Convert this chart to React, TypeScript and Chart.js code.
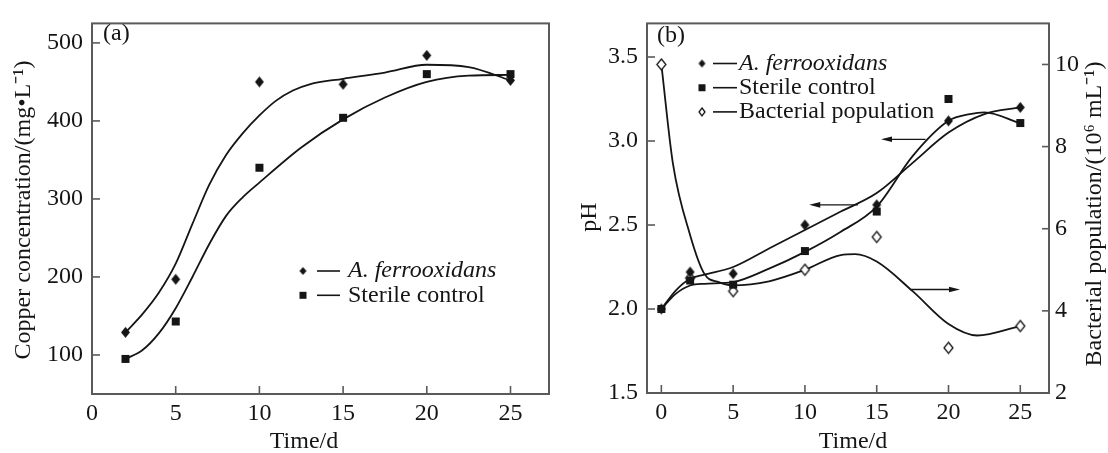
import React, { useEffect, useRef } from 'react';
import { Chart, registerables } from 'chart.js';

Chart.register(...registerables);

const FONT = "'Liberation Serif', 'Times New Roman', Times, serif";
const INK = '#151515';
const AXIS = '#5a5a5a';

// ---------- Panel (a): copper concentration ----------
const daysA = [2, 5, 10, 15, 20, 25];
const copperFerro = [129, 197, 450, 447, 484, 452];
const copperSterile = [95, 143, 340, 404, 460, 460];
const fitDaysFerroA = [2, 3, 4, 5, 6, 7, 8, 9, 10, 11, 12, 13, 15, 17.5, 20, 22.5, 25];
const copperFerroFit = [129, 152, 180, 217, 268, 318, 356, 384, 407, 426, 439, 447, 454, 462, 472, 469, 452];
const fitDaysSterileA = [2, 3, 4, 5, 6, 7, 8, 9, 10, 12.5, 15, 17.5, 20, 22.5, 25];
const copperSterileFit = [95, 106, 128, 160, 200, 242, 278, 302, 321, 366, 402, 430, 450, 458, 459];
const xTicksA = [0, 5, 10, 15, 20, 25];
const yTicksA = [100, 200, 300, 400, 500];
const legendA = ['A. ferrooxidans', 'Sterile control'];

// ---------- Panel (b): pH and bacterial population ----------
const daysB = [0, 2, 5, 10, 15, 20, 25];
const pHFerro = [2.0, 2.22, 2.21, 2.5, 2.62, 3.12, 3.2];
const pHSterile = [2.0, 2.17, 2.145, 2.345, 2.58, 3.25, 3.107];
const bacteria = [10.0, 4.8, 4.48, 5.0, 5.8, 3.1, 3.63];
const fitDaysFerroB = [0, 1, 2, 3, 5, 7.5, 10, 12.5, 15, 17.5, 20, 22.5, 25];
const pHFerroFit = [2.0, 2.11, 2.18, 2.205, 2.25, 2.36, 2.47, 2.58, 2.69, 2.87, 3.05, 3.16, 3.2];
const fitDaysSterileB = [0, 1, 2, 3, 5, 7.5, 10, 12.5, 15, 17.5, 20, 21.5, 22.5, 25];
const pHSterileFit = [2.0, 2.09, 2.14, 2.15, 2.16, 2.24, 2.34, 2.46, 2.61, 2.91, 3.12, 3.16, 3.17, 3.105];
const fitDaysBacteria = [0, 0.8, 2, 3, 4, 5, 7.5, 10, 12.5, 13.5, 15, 17.5, 20, 22, 25];
const bacteriaFit = [10.0, 7.6, 5.85, 4.9, 4.7, 4.62, 4.72, 5.0, 5.36, 5.38, 5.2, 4.48, 3.68, 3.4, 3.63];
const xTicksB = [0, 5, 10, 15, 20, 25];
const yTicksB = [1.5, 2.0, 2.5, 3.0, 3.5];
const y2TicksB = [2, 4, 6, 8, 10];
const legendB = ['A. ferrooxidans', 'Sterile control', 'Bacterial population'];
// arrows (data units): start day, tip day, level, axis
const arrowFrom = [18.4, 13.7, 17.4];
const arrowTo = [15.3, 10.3, 20.8];
const arrowLevel = [3.01, 2.62, 4.52];
const arrowAxis = ['y', 'y', 'y2'];

const pts = (xs: number[], ys: number[]) => xs.map((x, i) => ({ x, y: ys[i] }));

function makeMarker(kind: 'diamond' | 'square' | 'open', w: number, h: number): HTMLCanvasElement {
  const pad = 2;
  const c = document.createElement('canvas');
  c.width = Math.ceil(w + pad * 2);
  c.height = Math.ceil(h + pad * 2);
  const ctx = c.getContext('2d')!;
  const cx = c.width / 2;
  const cy = c.height / 2;
  ctx.beginPath();
  if (kind === 'square') {
    ctx.rect(cx - w / 2, cy - h / 2, w, h);
  } else {
    ctx.moveTo(cx, cy - h / 2);
    ctx.lineTo(cx + w / 2, cy);
    ctx.lineTo(cx, cy + h / 2);
    ctx.lineTo(cx - w / 2, cy);
    ctx.closePath();
  }
  if (kind === 'open') {
    ctx.fillStyle = '#fff';
    ctx.fill();
    ctx.lineWidth = 1.3;
    ctx.strokeStyle = INK;
    ctx.stroke();
  } else {
    ctx.fillStyle = INK;
    ctx.fill();
  }
  return c;
}

const fitSet = (data: { x: number; y: number }[], yAxisID = 'y') => ({
  data,
  yAxisID,
  borderColor: INK,
  borderWidth: 1.8,
  pointRadius: 0,
  pointHoverRadius: 0,
  cubicInterpolationMode: 'monotone' as const,
  fill: false,
  order: 2,
});

const pointSet = (label: string, data: { x: number; y: number }[], marker: HTMLCanvasElement, yAxisID = 'y') => ({
  label,
  data,
  yAxisID,
  showLine: false,
  pointStyle: marker,
  pointRadius: 5,
  pointHoverRadius: 5,
  borderColor: INK,
  backgroundColor: INK,
  order: 1,
});

const tickFont = { family: FONT, size: 24 };

function text(ctx: CanvasRenderingContext2D, s: string, x: number, y: number, opts: { italic?: boolean; align?: CanvasTextAlign; rot?: number } = {}) {
  ctx.save();
  ctx.font = `${opts.italic ? 'italic ' : ''}24px ${FONT}`;
  ctx.fillStyle = INK;
  ctx.textAlign = opts.align || 'center';
  ctx.textBaseline = 'middle';
  ctx.translate(x, y);
  if (opts.rot) ctx.rotate(opts.rot);
  ctx.fillText(s, 0, 0);
  ctx.restore();
}

const decorPlugin = {
  id: 'decor',
  afterDraw(chart: any, _args: any, o: any) {
    const ctx: CanvasRenderingContext2D = chart.ctx;
    const { left, right, top, bottom } = chart.chartArea;
    ctx.save();
    ctx.strokeStyle = AXIS;
    ctx.lineWidth = 2;
    ctx.strokeRect(left, top, right - left, bottom - top);
    ctx.lineWidth = 1.6;
    Object.values(chart.scales).forEach((s: any) => {
      s.ticks.forEach((t: any) => {
        const p = s.getPixelForValue(t.value);
        ctx.beginPath();
        if (s.axis === 'x') {
          ctx.moveTo(p, bottom);
          ctx.lineTo(p, bottom - 8);
        } else if (s.position === 'left') {
          ctx.moveTo(left, p);
          ctx.lineTo(left + 8, p);
        } else {
          ctx.moveTo(right, p);
          ctx.lineTo(right - 7, p);
        }
        ctx.stroke();
      });
    });
    (o.arrows || []).forEach((a: any) => {
      const xs = chart.scales.x;
      const ys = chart.scales[a.axis];
      const x1 = xs.getPixelForValue(a.from);
      const x2 = xs.getPixelForValue(a.to);
      const y = ys.getPixelForValue(a.level);
      const dir = Math.sign(x2 - x1);
      ctx.strokeStyle = INK;
      ctx.fillStyle = INK;
      ctx.lineWidth = 1.3;
      ctx.beginPath();
      ctx.moveTo(x1, y);
      ctx.lineTo(x2 - dir * 6, y);
      ctx.stroke();
      ctx.beginPath();
      ctx.moveTo(x2, y);
      ctx.lineTo(x2 - dir * 11, y - 2.8);
      ctx.lineTo(x2 - dir * 11, y + 2.8);
      ctx.closePath();
      ctx.fill();
    });
    const lg = o.legend;
    if (lg) {
      lg.labels.forEach((lab: string, i: number) => {
        const y = lg.y + i * lg.dy;
        const m: HTMLCanvasElement = lg.markers[i];
        ctx.drawImage(m, lg.x - m.width / 2, y - m.height / 2);
        ctx.strokeStyle = INK;
        ctx.lineWidth = 1.6;
        ctx.beginPath();
        ctx.moveTo(lg.lineStart, y);
        ctx.lineTo(lg.lineEnd, y);
        ctx.stroke();
        text(ctx, lab, lg.textX, y, { italic: i === 0, align: 'left' });
      });
    }
    text(ctx, o.panel, o.panelX, o.panelY, { align: 'left' });
    (o.titles || []).forEach((t: any) => text(ctx, t.s, t.x, t.y, { rot: t.rot }));
    ctx.restore();
  },
};

function linearX(min: number, max: number, ticks: number[], height: number) {
  return {
    type: 'linear' as const,
    min,
    max,
    afterBuildTicks: (s: any) => { s.ticks = ticks.map((v) => ({ value: v })); },
    afterFit: (s: any) => { s.height = height; },
    grid: { display: false, drawTicks: false },
    border: { display: false },
    ticks: { font: tickFont, color: INK, padding: 5, maxRotation: 0, autoSkip: false },
  };
}

function linearY(min: number, max: number, ticks: number[], width: number, position: 'left' | 'right', padding: number, fmt?: (v: number) => string) {
  return {
    type: 'linear' as const,
    position,
    min,
    max,
    afterBuildTicks: (s: any) => { s.ticks = ticks.map((v) => ({ value: v })); },
    afterFit: (s: any) => { s.width = width; },
    grid: { display: false, drawTicks: false },
    border: { display: false },
    ticks: {
      font: tickFont,
      color: INK,
      padding,
      autoSkip: false,
      callback: (v: any) => (fmt ? fmt(Number(v)) : String(v)),
    },
  };
}

export default function App() {
  const refA = useRef<HTMLCanvasElement>(null);
  const refB = useRef<HTMLCanvasElement>(null);

  useEffect(() => {
    let chartA: Chart | null = null;
    let chartB: Chart | null = null;
    let cancelled = false;

    const build = () => {
      if (cancelled || !refA.current || !refB.current) return;
      const dia = makeMarker('diamond', 9, 11);
      const sq = makeMarker('square', 8, 8);
      const open = makeMarker('open', 9, 11);
      const diaS = makeMarker('diamond', 7, 8);
      const sqS = makeMarker('square', 7, 7);
      const openS = makeMarker('open', 6, 8);

      chartA = new Chart(refA.current, {
        type: 'line',
        data: {
          datasets: [
            fitSet(pts(fitDaysFerroA, copperFerroFit)),
            fitSet(pts(fitDaysSterileA, copperSterileFit)),
            pointSet(legendA[0], pts(daysA, copperFerro), dia),
            pointSet(legendA[1], pts(daysA, copperSterile), sq),
          ] as any,
        },
        options: {
          responsive: false,
          animation: false,
          devicePixelRatio: 1,
          layout: { padding: { left: 0, right: 11, top: 16, bottom: 0 } },
          scales: {
            x: linearX(0, 27.3, xTicksA, 59),
            y: linearY(50, 525, yTicksA, 92, 'left', 9),
          } as any,
          plugins: {
            legend: { display: false },
            tooltip: { enabled: false },
            decor: {
              panel: '(a)',
              panelX: 103,
              panelY: 34,
              legend: { labels: legendA, markers: [diaS, sqS], x: 303, y: 271, dy: 24.3, lineStart: 317, lineEnd: 340, textX: 348 },
              titles: [
                { s: 'Copper concentration/(mg\u2022L\u207B\u00B9)', x: 24, y: 210, rot: -Math.PI / 2 },
                { s: 'Time/d', x: 304, y: 442 },
              ],
            },
          } as any,
        },
        plugins: [decorPlugin],
      });

      const arrows = arrowFrom.map((f, i) => ({ from: f, to: arrowTo[i], level: arrowLevel[i], axis: arrowAxis[i] }));

      chartB = new Chart(refB.current, {
        type: 'line',
        data: {
          datasets: [
            fitSet(pts(fitDaysFerroB, pHFerroFit)),
            fitSet(pts(fitDaysSterileB, pHSterileFit)),
            fitSet(pts(fitDaysBacteria, bacteriaFit), 'y2'),
            pointSet(legendB[0], pts(daysB, pHFerro), dia),
            pointSet(legendB[1], pts(daysB, pHSterile), sq),
            pointSet(legendB[2], pts(daysB, bacteria), open, 'y2'),
          ] as any,
        },
        options: {
          responsive: false,
          animation: false,
          devicePixelRatio: 1,
          layout: { padding: { left: 0, right: 0, top: 16, bottom: 0 } },
          scales: {
            x: linearX(-1, 27, xTicksB, 60),
            y: linearY(1.5, 3.7, yTicksB, 87, 'left', 9, (v) => v.toFixed(1)),
            y2: linearY(2, 11, y2TicksB, 59, 'right', 6),
          } as any,
          plugins: {
            legend: { display: false },
            tooltip: { enabled: false },
            decor: {
              panel: '(b)',
              panelX: 97,
              panelY: 36,
              arrows,
              legend: { labels: legendB, markers: [diaS, sqS, openS], x: 142, y: 63.5, dy: 24.2, lineStart: 153, lineEnd: 177, textX: 179 },
              titles: [
                { s: 'pH', x: 30, y: 217, rot: -Math.PI / 2 },
                { s: 'Time/d', x: 293, y: 442 },
                { s: 'Bacterial population/(10\u2076 mL\u207B\u00B9)', x: 535, y: 214, rot: -Math.PI / 2 },
              ],
            },
          } as any,
        },
        plugins: [decorPlugin],
      });
    };

    const fonts: any = (document as any).fonts;
    if (fonts && fonts.load) {
      Promise.all([
        fonts.load("24px 'Liberation Serif'"),
        fonts.load("italic 24px 'Liberation Serif'"),
      ]).then(build, build);
    } else {
      build();
    }

    return () => {
      cancelled = true;
      if (chartA) chartA.destroy();
      if (chartB) chartB.destroy();
    };
  }, []);

  return (
    <div style={{ position: 'absolute', left: 0, top: 0, width: 1108, height: 453, background: '#fff' }}>
      <canvas ref={refA} width={560} height={453} style={{ position: 'absolute', left: 0, top: 0 }} />
      <canvas ref={refB} width={548} height={453} style={{ position: 'absolute', left: 560, top: 0 }} />
    </div>
  );
}
